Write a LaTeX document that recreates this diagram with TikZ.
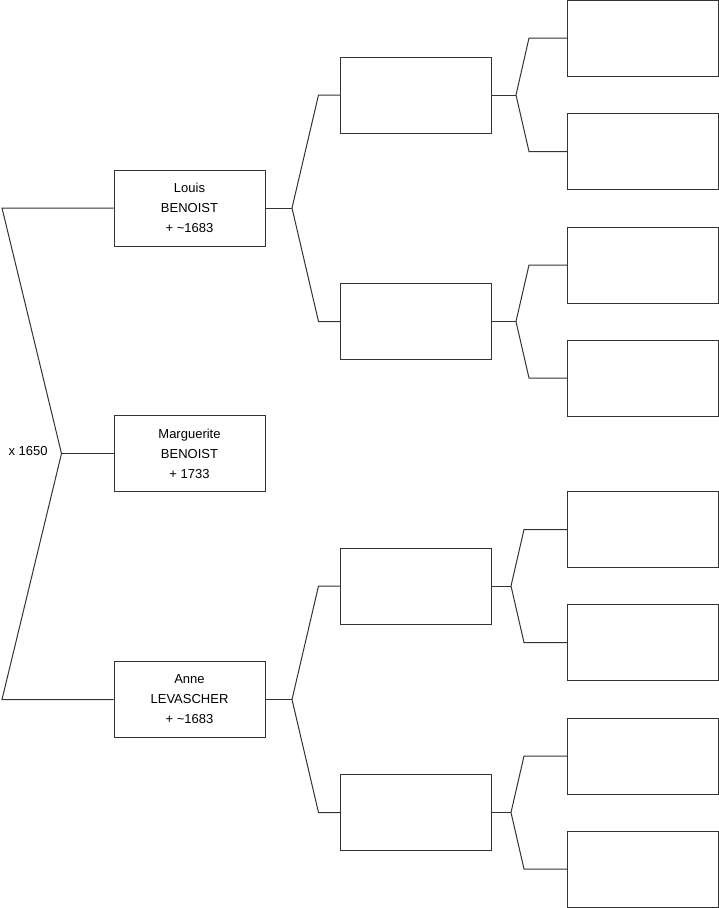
\documentclass[tikz,border=0pt]{standalone}
\usepackage{fontspec}
\setmainfont{Liberation Sans}
\begin{document}
\begin{tikzpicture}[x=1pt, y=-1pt,
  pbox/.style={draw=black!80, line width=1pt, fill=white, minimum width=151pt,
               minimum height=76pt, inner sep=0pt, align=center,
               font=\fontsize{13}{20}\selectfont},
  link/.style={draw=black!80, line width=1pt},
  lbl/.style={font=\fontsize{13}{16}\selectfont}
]
  \useasboundingbox (0,0) rectangle (719,908);

  % Subject and parents
  \node[pbox] (louis) at (189.5, 208)   {Louis\\BENOIST\\+ \textasciitilde1683};
  \node[pbox] (marg)  at (189.5, 453.5) {Marguerite\\BENOIST\\+ 1733};
  \node[pbox] (anne)  at (189.5, 699.5) {Anne\\LEVASCHER\\+ \textasciitilde1683};

  % Grandparents (empty)
  \foreach[count=\i] \y in {95, 321.5, 586, 812.5} {
    \node[pbox] (p\i) at (416, \y) {};
  }

  % Great-grandparents (empty)
  \foreach[count=\i] \y in {38, 151.5, 265, 378, 529.5, 642.5, 756, 869} {
    \node[pbox] (g\i) at (643, \y) {};
  }

  % Marriage fork
  \coordinate (marg-j) at ([xshift=-52]marg.west);
  \draw[link] (louis.west) -- ([xshift=-111.5]louis.west) -- (marg-j)
              -- ([xshift=-111.5]anne.west) -- (anne.west);
  \draw[link] (marg-j) -- (marg.west);
  \node[lbl, anchor=west] (wed) at (5, 451.5) {x 1650};

  % Forks to the parents of each box
  \foreach \src/\dj/\dc/\a/\b in {louis/26.5/21.5/p1/p2, anne/26.5/21.5/p3/p4,
      p1/24/38/g1/g2, p2/24/38/g3/g4, p3/19/43/g5/g6, p4/19/43/g7/g8} {
    \coordinate (\src-j) at ([xshift=\dj]\src.east);
    \draw[link] (\src.east) -- (\src-j);
    \draw[link] (\a.west) -- ([xshift=-\dc]\a.west) -- (\src-j)
                -- ([xshift=-\dc]\b.west) -- (\b.west);
  }
\end{tikzpicture}
\end{document}
